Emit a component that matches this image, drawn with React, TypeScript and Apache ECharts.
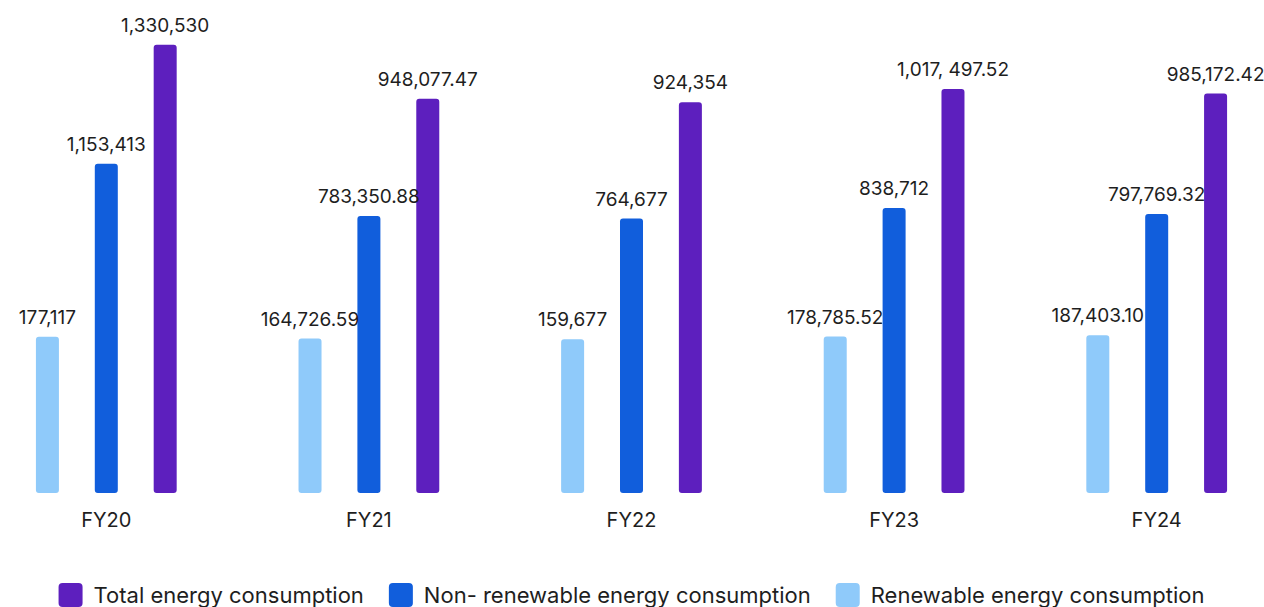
import React, { useEffect, useRef } from "react";
import * as echarts from "echarts";

const categories = ["FY20", "FY21", "FY22", "FY23", "FY24"];
const renewable = [177117, 164726.59, 159677, 178785.52, 187403.1];
const nonRenewable = [1153413, 783350.88, 764677, 838712, 797769.32];
const total = [1330530, 948077.47, 924354, 1017497.52, 985172.42];
const renewableLabels = ["177,117", "164,726.59", "159,677", "178,785.52", "187,403.10"];
const nonRenewableLabels = ["1,153,413", "783,350.88", "764,677", "838,712", "797,769.32"];
const totalLabels = ["1,330,530", "948,077.47", "924,354", "1,017, 497.52", "985,172.42"];
const seriesNames = [
  "Renewable energy consumption",
  "Non- renewable energy consumption",
  "Total energy consumption",
];
const legendOrder = [seriesNames[2], seriesNames[1], seriesNames[0]];
// hidden value axes (one per series), each starting at its own base value
const axisMins = [-930000, -1180000, -1845000];
const axisSpan = 3210000;

const COLORS = ["#8FCAFA", "#115EDC", "#5D1FBE"];
const FONT = "Inter";
const TEXT = "#1e1e1e";
const ICON = "path://M4,0 H20 A4,4 0 0 1 24,4 V20 A4,4 0 0 1 20,24 H4 A4,4 0 0 1 0,20 V4 A4,4 0 0 1 4,0 Z";

export default function App() {
  const ref = useRef<HTMLDivElement>(null);
  useEffect(() => {
    if (!ref.current) return;
    const chart = echarts.init(ref.current, null, { renderer: "svg" });
    const values = [renewable, nonRenewable, total];
    const labels = [renewableLabels, nonRenewableLabels, totalLabels];
    chart.setOption({
      animation: false,
      backgroundColor: "#ffffff",
      textStyle: { fontFamily: FONT },
      grid: { left: 0, right: 0, top: 40, bottom: 114 },
      legend: {
        data: legendOrder,
        left: "center",
        top: 583,
        padding: 0,
        itemWidth: 24,
        itemHeight: 24,
        itemGap: 25,
        icon: ICON,
        textStyle: { fontFamily: FONT, fontSize: 22, color: TEXT, padding: [0, 0, 0, 6] },
      },
      xAxis: {
        type: "category",
        data: categories,
        axisLine: { show: false },
        axisTick: { show: false },
        splitLine: { show: false },
        axisLabel: { fontFamily: FONT, fontSize: 20, color: TEXT, margin: 17 },
      },
      yAxis: axisMins.map((m) => ({
        type: "value",
        show: false,
        min: m,
        max: m + axisSpan,
        startValue: m,
        splitLine: { show: false },
      })),
      series: values.map((vals, i) => ({
        name: seriesNames[i],
        type: "bar",
        yAxisIndex: i,
        data: vals,
        barWidth: 23,
        barGap: "156%",
        clip: false,
        itemStyle: { color: COLORS[i], borderRadius: 3 },
        label: {
          show: true,
          position: "top",
          distance: 10,
          fontFamily: FONT,
          fontSize: 19,
          color: TEXT,
          formatter: (p: any) => labels[i][p.dataIndex],
        },
      })),
    });
    return () => chart.dispose();
  }, []);
  return (
    <div style={{ position: "fixed", left: 0, top: 0, width: 1264, height: 607, overflow: "hidden", background: "#fff" }}>
      <div
        ref={ref}
        style={{ position: "absolute", left: -25, top: 0, width: 1313, height: 607 }}
      />
    </div>
  );
}
